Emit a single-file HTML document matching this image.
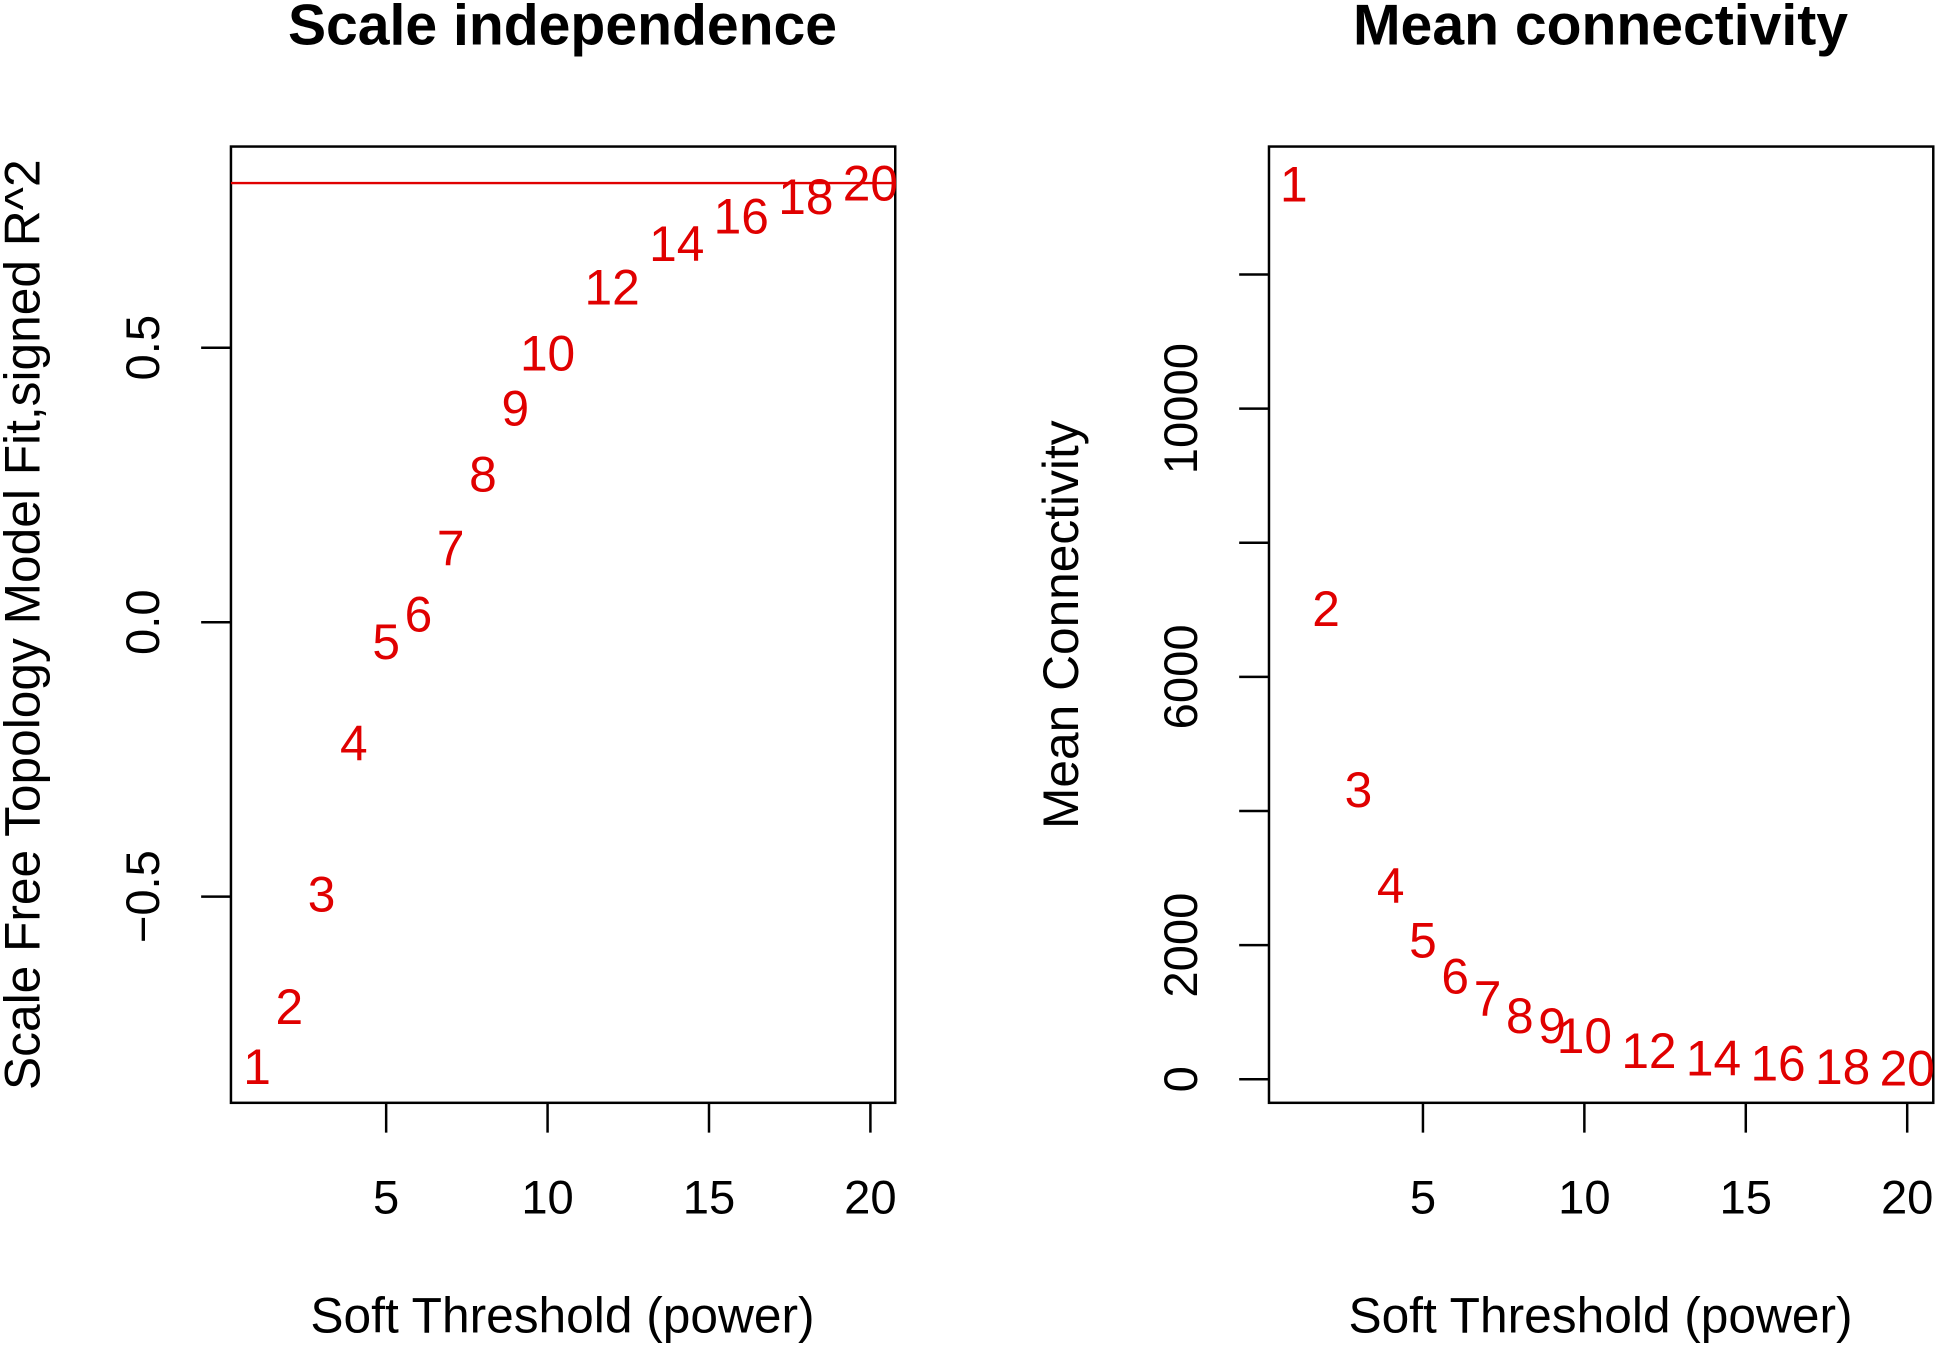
<!DOCTYPE html>
<html><head><meta charset="utf-8">
<style>
html,body{margin:0;padding:0;background:#fff;}
svg{display:block;}
text{font-family:"Liberation Sans",Arial,sans-serif;}
</style></head>
<body>
<svg id="chart" width="1937" height="1345" viewBox="0 0 1560 1083" preserveAspectRatio="none" xmlns="http://www.w3.org/2000/svg">
<g id="left"></g>
<g id="right"></g>
</svg>
<script>
const powers = [1,2,3,4,5,6,7,8,9,10,12,14,16,18,20];
const r2Values = [-0.81,-0.70,-0.495,-0.22,-0.035,0.015,0.135,0.27,0.39,0.49,0.61,0.69,0.74,0.775,0.80];
const meanK = [13350,7020,4315,2890,2075,1540,1200,945,800,650,425,315,240,185,165];
const xTicks = [5,10,15,20];
const leftYTicks = [-0.5,0.0,0.5];
const leftYLabels = ["\u22120.5","0.0","0.5"];
const rightYTicks = [0,2000,4000,6000,8000,10000,12000];
const rightYLabels = ["0","2000","","6000","","10000",""];
const cutoff = 0.80;

const NS = "http://www.w3.org/2000/svg";
function mk(parent, tag, attrs, txt){
  const e = document.createElementNS(NS, tag);
  for (const k in attrs) e.setAttribute(k, attrs[k]);
  if (txt !== undefined) e.textContent = txt;
  parent.appendChild(e); return e;
}
function panel(g, o){
  const sx = v => o.x0 + (v - o.xa) * o.xk;
  const sy = v => o.y0 - (v - o.ya) * o.yk;
  const box = mk(g,'rect',{x:o.L,y:118,width:535,height:770,fill:'none',stroke:'#000','stroke-width':2});
  
  
  const t = mk(g,'text',{x:o.L+267,y:36,'text-anchor':'middle','font-size':46,'font-weight':'bold'},o.title);
  
  
  const xt = mk(g,'text',{x:o.L+267,y:1073,'text-anchor':'middle','font-size':40},'Soft Threshold (power)');
  
  
  const yt = mk(g,'text',{x:0,y:0,'text-anchor':'middle','font-size':40,transform:`translate(${o.ytx},503) rotate(-90)`},o.ytitle);
  
  
  xTicks.forEach(v=>{
    const l = mk(g,'line',{x1:sx(v),x2:sx(v),y1:888,y2:912,stroke:'#000','stroke-width':2});
    
    
    const tl = mk(g,'text',{x:sx(v),y:977,'text-anchor':'middle','font-size':38},String(v));
    
    
  });
  o.yt.forEach((v,i)=>{
    const l = mk(g,'line',{x1:o.L-24,x2:o.L,y1:sy(v),y2:sy(v),stroke:'#000','stroke-width':2});
    
    
    if (o.yl[i]) {
      const tl = mk(g,'text',{x:0,y:0,'text-anchor':'middle','font-size':38,transform:`translate(${o.L-58},${sy(v)}) rotate(-90)`},o.yl[i]);
      
      
    }
  });
  if (o.hline !== undefined){
    const h = mk(g,'line',{x1:o.L,x2:o.L+535,y1:sy(o.hline),y2:sy(o.hline),stroke:'#e00000','stroke-width':2});
    
    
  }
  powers.forEach((p,i)=>{
    const tx = mk(g,'text',{x:sx(p),y:sy(o.vals[i])+14,'text-anchor':'middle','font-size':40,fill:'#e00000'},String(p));
    
    
  });
}
panel(document.getElementById('left'),{L:186,title:'Scale independence',ytitle:'Scale Free Topology Model Fit,signed R^2',ytx:32,
  x0:311,xa:5,xk:26,y0:501,ya:0,yk:442,yt:leftYTicks,yl:leftYLabels,vals:r2Values,hline:cutoff});
panel(document.getElementById('right'),{L:1022,title:'Mean connectivity',ytitle:'Mean Connectivity',ytx:868,
  x0:1146,xa:5,xk:26,y0:869,ya:0,yk:0.054,yt:rightYTicks,yl:rightYLabels,vals:meanK});
</script>
</body></html>
